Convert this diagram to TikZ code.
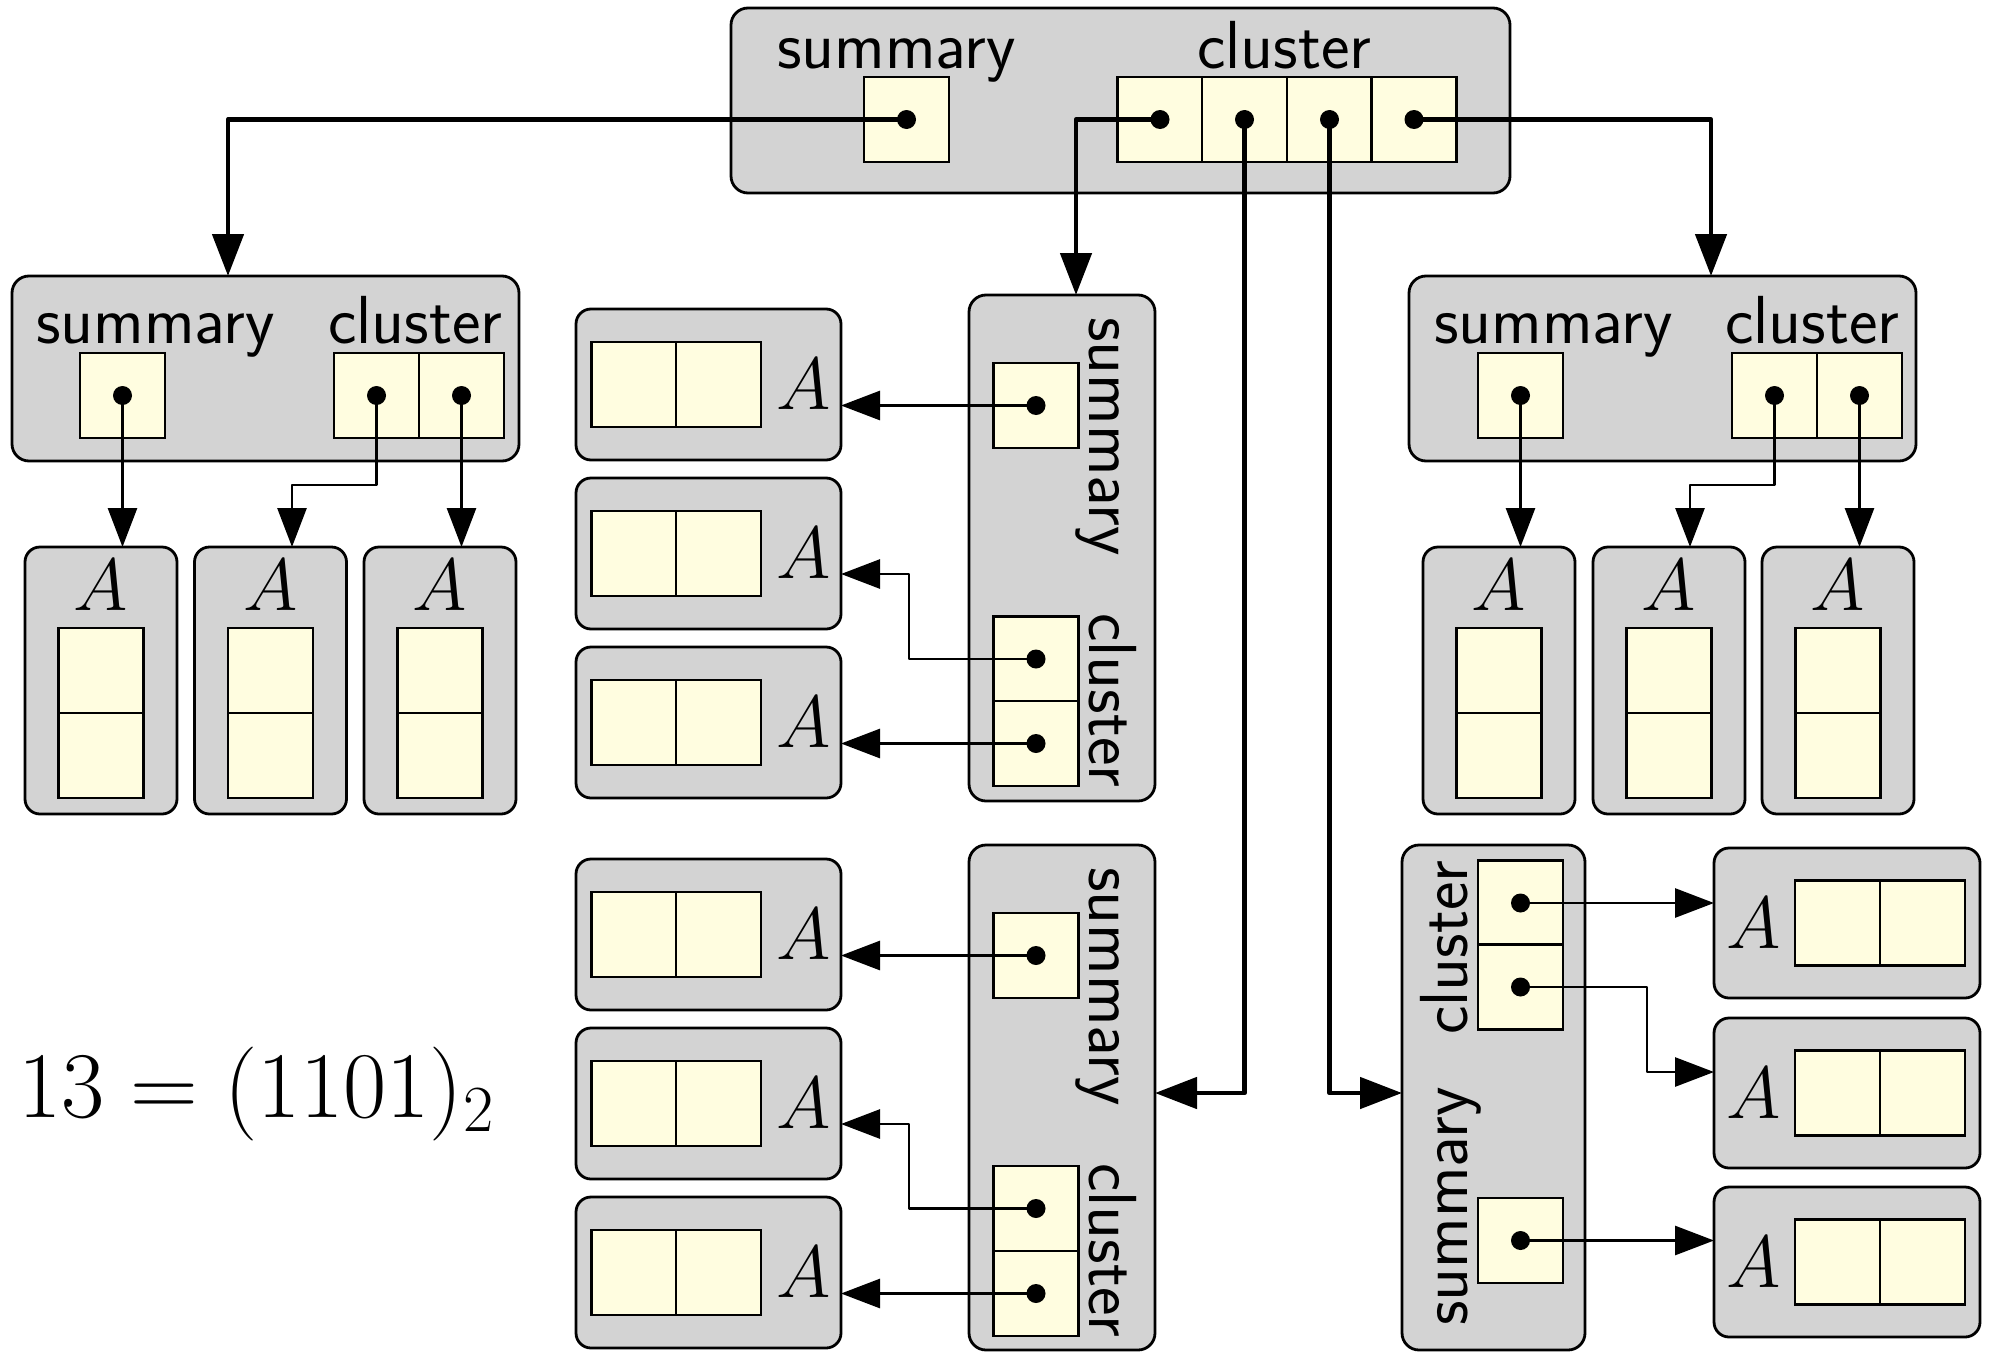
\RequirePackage{fix-cm}
\documentclass[tikz,border=0pt]{standalone}
\usetikzlibrary{arrows.meta}
\definecolor{boxgray}{RGB}{211,211,211}
\definecolor{cellyel}{RGB}{255,253,224}
\tikzset{
  container/.style={draw, line width=2.8pt, fill=boxgray, rounded corners=17pt, inner sep=0pt, outer sep=0pt},
  anode/.style={container, rounded corners=15pt},
  cell/.style={draw, line width=2.8pt, fill=cellyel, inner sep=0pt, outer sep=0pt, minimum width=85pt, minimum height=85pt},
  lab/.style={font=\fontsize{68}{76}\selectfont\sffamily, inner sep=0pt, anchor=base west},
  alab/.style={font=\fontsize{74}{80}\selectfont, inner sep=0pt, anchor=base},
  thickarrow/.style={line width=4.8pt, line join=round, -{Triangle[length=42pt,width=31pt]}},
  thinarrow/.style={line width=2.8pt, line join=round, -{Triangle[length=39pt,width=29pt]}}
}
\begin{document}
\begin{tikzpicture}[x=1pt,y=-1pt]
\useasboundingbox (0,0) rectangle (1993,1354);

% ---------- containers ----------
\node[container, minimum width=779pt, minimum height=185pt] (T) at (1120.5,100.5) {};
\node[container, minimum width=507pt, minimum height=185pt] (L) at (265.5,368.5) {};
\node[container, minimum width=507pt, minimum height=185pt] (R) at (1662.5,368.5) {};
\node[container, minimum width=186pt, minimum height=506pt] (M1) at (1062,548) {};
\node[container, minimum width=186pt, minimum height=505pt] (M2) at (1062,1097.5) {};
\node[container, minimum width=183pt, minimum height=505pt] (B) at (1493.5,1097.5) {};

% ---------- top container ----------
\node[cell] (Tsum) at (906.5,119.5) {};
\node[cell] (Tc1) at (1160,119.5) {};
\node[cell] (Tc2) at (1244.5,119.5) {};
\node[cell] (Tc3) at (1329.5,119.5) {};
\node[cell] (Tc4) at (1414,119.5) {};
\node[lab] (Tsl) at (777,68) {summary};
\node[lab] (Tcl) at (1197,68) {cluster};

% ---------- left / right containers ----------
\node[cell] (Lsum) at (122.5,395.5) {};
\node[cell] (Lc1) at (376.5,395.5) {};
\node[cell] (Lc2) at (461.5,395.5) {};
\node[lab] (Lsl) at (36,343) {summary};
\node[lab] (Lcl) at (328,343) {cluster};

\node[cell] (Rsum) at (1520.5,395.5) {};
\node[cell] (Rc1) at (1774.5,395.5) {};
\node[cell] (Rc2) at (1859.5,395.5) {};
\node[lab] (Rsl) at (1434,343) {summary};
\node[lab] (Rcl) at (1725,343) {cluster};

% ---------- vertical middle nodes ----------
\node[cell] (M1s) at (1036,405.5) {};
\node[cell] (M1c1) at (1036,659) {};
\node[cell] (M1c2) at (1036,743.5) {};
\node[lab, rotate=-90] (M1sl) at (1089,317) {summary};
\node[lab, rotate=-90] (M1cl) at (1089,613) {cluster};

\node[cell] (M2s) at (1036,955.5) {};
\node[cell] (M2c1) at (1036,1208.5) {};
\node[cell] (M2c2) at (1036,1293.5) {};
\node[lab, rotate=-90] (M2sl) at (1089,867) {summary};
\node[lab, rotate=-90] (M2cl) at (1089,1163) {cluster};

\node[cell] (Bc1) at (1520.5,903) {};
\node[cell] (Bc2) at (1520.5,987) {};
\node[cell] (Bs) at (1520.5,1240.5) {};
\node[lab, rotate=90] (Bcl) at (1467,1035) {cluster};
\node[lab, rotate=90] (Bsl) at (1467,1326) {summary};

% ---------- A nodes (vertical, A on top) ----------
\foreach \nm/\cx in {LA1/101, LA2/270.5, LA3/440, RA1/1499, RA2/1669, RA3/1838} {
  \node[anode, minimum width=152pt, minimum height=267pt] (\nm) at (\cx,680.5) {};
  \node[cell] (\nm-a) at (\cx,670.5) {};
  \node[cell] (\nm-b) at (\cx,755.5) {};
  \node[alab] (\nm-l) at (\cx,610) {$A$};
}
% ---------- A nodes (horizontal, A on right) ----------
\foreach \nm/\cy in {MA1/384.5, MA2/553.5, MA3/722.5, MB1/934.5, MB2/1103.5, MB3/1272.5} {
  \node[anode, minimum width=265pt, minimum height=151pt] (\nm) at (708.5,\cy) {};
  \node[cell] (\nm-a) at (634,\cy) {};
  \node[cell] (\nm-b) at (718.5,\cy) {};
  \node[alab] (\nm-l) at (803.5,\cy+25) {$A$};
}
% ---------- A nodes (horizontal, A on left) ----------
\foreach \nm/\cy in {BA1/923, BA2/1093, BA3/1262} {
  \node[anode, minimum width=266pt, minimum height=150pt] (\nm) at (1847,\cy) {};
  \node[cell] (\nm-a) at (1837.5,\cy) {};
  \node[cell] (\nm-b) at (1922.5,\cy) {};
  \node[alab] (\nm-l) at (1754,\cy+25) {$A$};
}

% ---------- equation ----------
\node[anchor=base west, inner sep=0pt, font=\fontsize{94}{106}\selectfont] (eq) at (18,1117) {$13=(1101)_2$};

% ---------- thick connectors ----------
\draw[thickarrow] (Tsum.center) -| ([xshift=-37.5pt]L.north);
\draw[thickarrow] (Tc1.center) -| ([xshift=14pt]M1.north);
\draw[thickarrow] (Tc2.center) |- ([yshift=4.5pt]M2.east);
\draw[thickarrow] (Tc3.center) |- ([yshift=4.5pt]B.west);
\draw[thickarrow] (Tc4.center) -| ([xshift=48.5pt]R.north);

% ---------- thin connectors ----------
\draw[thinarrow] (Lsum.center) -- (Lsum.center |- LA1.north);
\draw[thinarrow] (Lc1.center) -- ++(0,89.5) -| ([xshift=21.5pt]LA2.north);
\draw[thinarrow] (Lc2.center) -- (Lc2.center |- LA3.north);

\draw[thinarrow] (Rsum.center) -- (Rsum.center |- RA1.north);
\draw[thinarrow] (Rc1.center) -- ++(0,89.5) -| ([xshift=21pt]RA2.north);
\draw[thinarrow] (Rc2.center) -- (Rc2.center |- RA3.north);

\draw[thinarrow] (M1s.center) -- (M1s.center -| MA1.east);
\draw[thinarrow] (M1c1.center) -- ++(-127,0) |- ([yshift=-20.5pt]MA2.east);
\draw[thinarrow] (M1c2.center) -- (M1c2.center -| MA3.east);

\draw[thinarrow] (M2s.center) -- (M2s.center -| MB1.east);
\draw[thinarrow] (M2c1.center) -- ++(-127,0) |- ([yshift=-20.5pt]MB2.east);
\draw[thinarrow] (M2c2.center) -- (M2c2.center -| MB3.east);

\draw[thinarrow] (Bc1.center) -- (Bc1.center -| BA1.west);
\draw[thinarrow] (Bc2.center) -- ++(126.5,0) |- ([yshift=21pt]BA2.west);
\draw[thinarrow] (Bs.center) -- (Bs.center -| BA3.west);

% ---------- dots ----------
\foreach \n in {Tsum,Tc1,Tc2,Tc3,Tc4,Lsum,Lc1,Lc2,Rsum,Rc1,Rc2,M1s,M1c1,M1c2,M2s,M2c1,M2c2,Bc1,Bc2,Bs}
  \fill (\n.center) circle[radius=9.5pt];
\end{tikzpicture}
\end{document}
